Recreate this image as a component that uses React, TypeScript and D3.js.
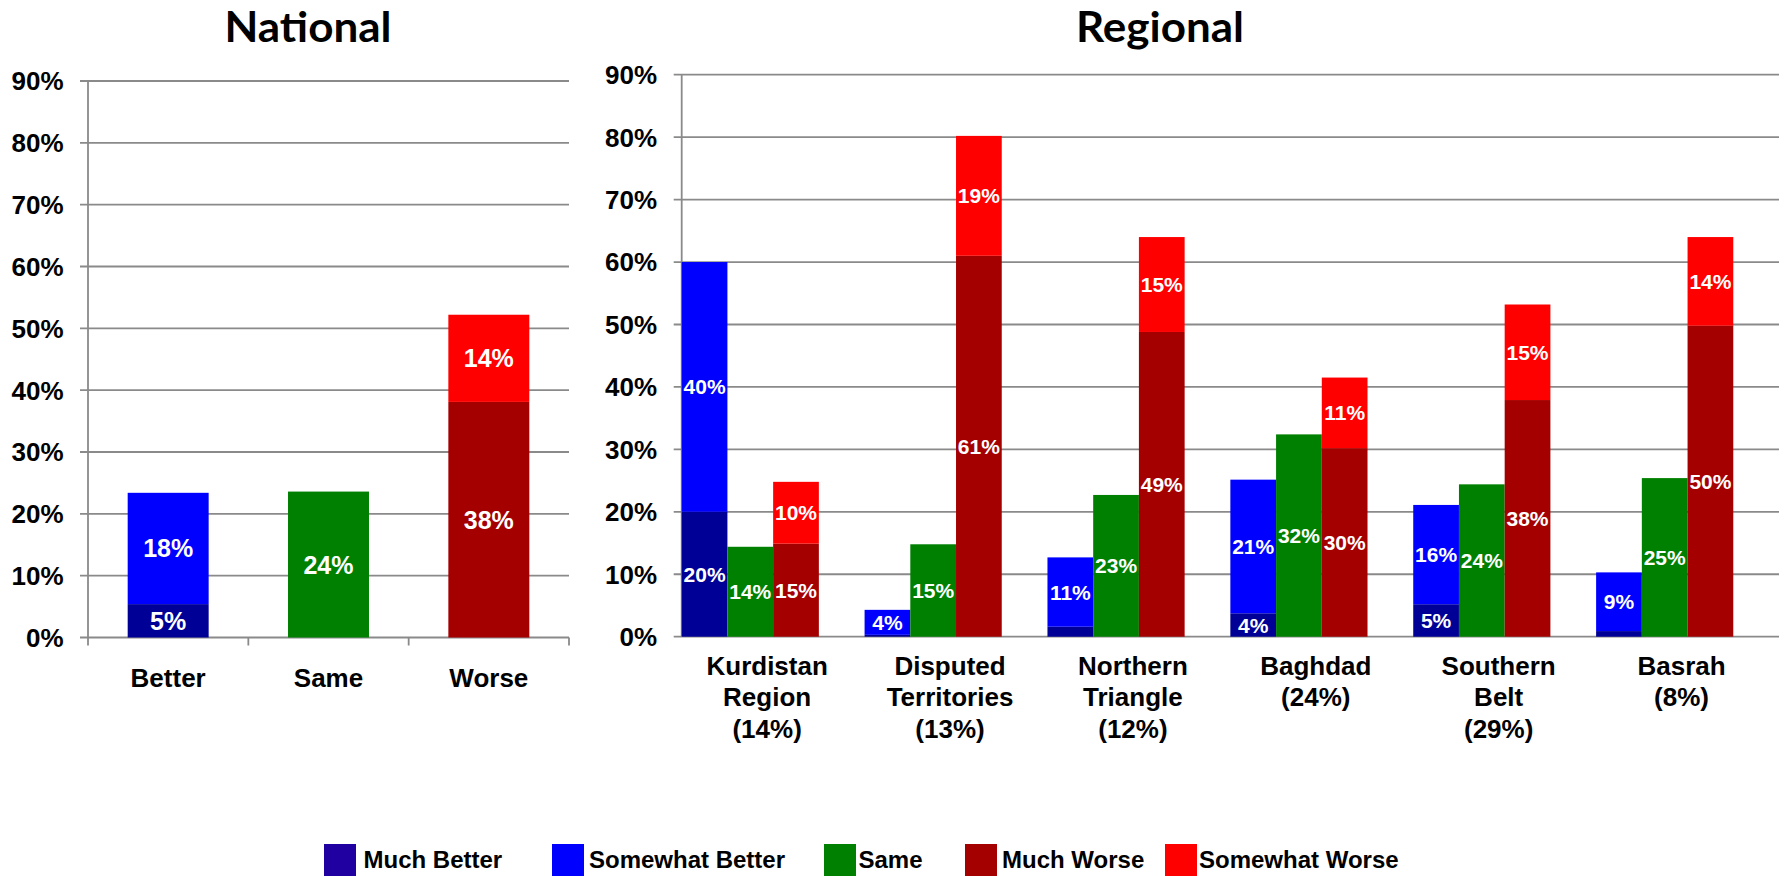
import React from "react";
import * as d3 from "d3";

// ---- data ----
const seriesNames = ["Much Better", "Somewhat Better", "Same", "Much Worse", "Somewhat Worse"];
const seriesColors = ["#000096", "#0000FF", "#008000", "#A50000", "#FF0000"];
const legendColors = ["#2000A0", "#0000FF", "#008000", "#A50000", "#FF0000"];
// which bar slot each series goes to (0 = better, 1 = same, 2 = worse)
const seriesSlot = [0, 0, 1, 2, 2];

const nationalCategories = ["Better", "Same", "Worse"];
const nationalValues = [5.4, 18.0, 23.6, 38.1, 14.1];

const regionLabels = [
  ["Kurdistan", "Region", "(14%)"],
  ["Disputed", "Territories", "(13%)"],
  ["Northern", "Triangle", "(12%)"],
  ["Baghdad", "(24%)"],
  ["Southern", "Belt", "(29%)"],
  ["Basrah", "(8%)"],
];
const muchBetter = [20.0, 0.3, 1.6, 3.75, 5.2, 0.9];
const somewhatBetter = [40.0, 4.0, 11.1, 21.4, 15.9, 9.4];
const same = [14.4, 14.8, 22.7, 32.4, 24.4, 25.4];
const muchWorse = [14.9, 61.0, 48.8, 30.2, 37.9, 49.8];
const somewhatWorse = [9.9, 19.2, 15.2, 11.3, 15.3, 14.2];
const regionalSeries = [muchBetter, somewhatBetter, same, muchWorse, somewhatWorse];

const yTicks = [0, 10, 20, 30, 40, 50, 60, 70, 80, 90];

const FONT = "'Liberation Sans', Arial, sans-serif";
const TITLE_FONT = "Lato, 'Open Sans', sans-serif";
const GRID = "#8a8a8a";

type Seg = { x: number; w: number; y0: number; y1: number; color: string; v: number };

function stackSegments(values: number[], slotX: (slot: number) => number, w: number, y: d3.ScaleLinear<number, number>): Seg[] {
  const base = [0, 0, 0];
  const segs: Seg[] = [];
  values.forEach((v, i) => {
    const s = seriesSlot[i];
    const lo = base[s];
    const hi = lo + v;
    base[s] = hi;
    segs.push({ x: slotX(s), w, y0: y(lo), y1: y(hi), color: seriesColors[i], v });
  });
  return segs;
}

function Grid({ y, x0, x1, labelRight }: { y: d3.ScaleLinear<number, number>; x0: number; x1: number; labelRight: number }) {
  return (
    <g>
      {yTicks.map((t) => (
        <g key={t}>
          <line x1={x0 - 8} x2={x1} y1={y(t)} y2={y(t)} stroke={GRID} strokeWidth={1.8} />
          <text x={labelRight} y={y(t)} dy="0.36em" textAnchor="end" fontFamily={FONT} fontWeight="bold" fontSize={26} fill="#000">
            {t}%
          </text>
        </g>
      ))}
      <line x1={x0} x2={x0} y1={y(90)} y2={y(0)} stroke={GRID} strokeWidth={1.8} />
    </g>
  );
}

function SegLabels({ segs, fontSize }: { segs: Seg[]; fontSize: number }) {
  return (
    <g>
      {segs
        .filter((s) => s.v >= 2)
        .map((s, i) => (
          <text
            key={i}
            x={s.x + s.w / 2}
            y={(s.y0 + s.y1) / 2}
            dy="0.36em"
            textAnchor="middle"
            fontFamily={FONT}
            fontWeight="bold"
            fontSize={fontSize}
            fill="#fff"
          >
            {Math.round(s.v)}%
          </text>
        ))}
    </g>
  );
}

export default function App() {
  // National panel
  const nx = d3.scaleBand<string>().domain(nationalCategories).range([88, 569]).paddingInner(0).paddingOuter(0);
  const ny = d3.scaleLinear().domain([0, 90]).range([637.5, 81]);
  const nbw = nx.bandwidth() * 0.505;
  const nSegs = stackSegments(
    nationalValues,
    (slot) => (nx(nationalCategories[slot]) as number) + (nx.bandwidth() - nbw) / 2,
    nbw,
    ny
  );

  // Regional panel
  const regionKeys = regionLabels.map((l) => l.join(" "));
  const rx = d3.scaleBand<string>().domain(regionKeys).range([681.7, 1779]).paddingInner(0).paddingOuter(0);
  const rx1 = d3.scaleBand<number>().domain([0, 1, 2]).range([0, rx.bandwidth() * 0.75]);
  const ry = d3.scaleLinear().domain([0, 90]).range([636.7, 74.7]);
  const rSegs: Seg[] = [];
  regionKeys.forEach((k, ri) => {
    const vals = regionalSeries.map((s) => s[ri]);
    rSegs.push(...stackSegments(vals, (slot) => (rx(k) as number) + (rx1(slot) as number), rx1.bandwidth(), ry));
  });

  const legendSwatchX = [324, 552, 824, 965, 1165];
  const legendTextX = [363.5, 589, 858.5, 1002, 1199];

  return (
    <svg
      width={1785}
      height={876}
      style={{ position: "absolute", left: 0, top: 0, background: "#fff" }}
    >
      <rect x={0} y={0} width={1785} height={876} fill="#fff" />
      {/* Titles */}
      <text x={308} y={42} textAnchor="middle" fontFamily={TITLE_FONT} fontWeight="bold" fontSize={42} textLength={167} lengthAdjust="spacingAndGlyphs">
        National
      </text>
      <text x={1160} y={42} textAnchor="middle" fontFamily={TITLE_FONT} fontWeight="bold" fontSize={42} textLength={168} lengthAdjust="spacingAndGlyphs">
        Regional
      </text>

      {/* National */}
      <Grid y={ny} x0={88} x1={569} labelRight={63.5} />
      {nx.domain().concat(["end"]).map((c, i) => {
        const xx = 88 + i * nx.bandwidth();
        return <line key={c} x1={xx} x2={xx} y1={ny(0)} y2={ny(0) + 8} stroke={GRID} strokeWidth={1.8} />;
      })}
      {nSegs.filter((s) => s.v > 0).map((s, i) => (
        <rect key={i} x={s.x} y={s.y1} width={s.w} height={s.y0 - s.y1} fill={s.color} />
      ))}
      <SegLabels segs={nSegs} fontSize={25} />
      {nationalCategories.map((c) => (
        <text key={c} x={(nx(c) as number) + nx.bandwidth() / 2} y={686.5} textAnchor="middle" fontFamily={FONT} fontWeight="bold" fontSize={26}>
          {c}
        </text>
      ))}

      {/* Regional */}
      <Grid y={ry} x0={681.7} x1={1779} labelRight={657} />
      {rSegs.filter((s) => s.v > 0).map((s, i) => (
        <rect key={i} x={s.x} y={s.y1} width={s.w} height={s.y0 - s.y1} fill={s.color} />
      ))}
      <SegLabels segs={rSegs} fontSize={21} />
      {regionKeys.map((k, ri) => (
        <text key={k} textAnchor="middle" fontFamily={FONT} fontWeight="bold" fontSize={26}>
          {regionLabels[ri].map((line, li) => (
            <tspan key={li} x={(rx(k) as number) + rx.bandwidth() / 2 - 6} y={674.5 + li * 31.8}>
              {line}
            </tspan>
          ))}
        </text>
      ))}

      {/* Legend */}
      {seriesNames.map((n, i) => (
        <g key={n}>
          <rect x={legendSwatchX[i]} y={844} width={32} height={40} fill={legendColors[i]} />
          <text x={legendTextX[i]} y={868} fontFamily={FONT} fontWeight="bold" fontSize={24}>
            {n}
          </text>
        </g>
      ))}
    </svg>
  );
}
